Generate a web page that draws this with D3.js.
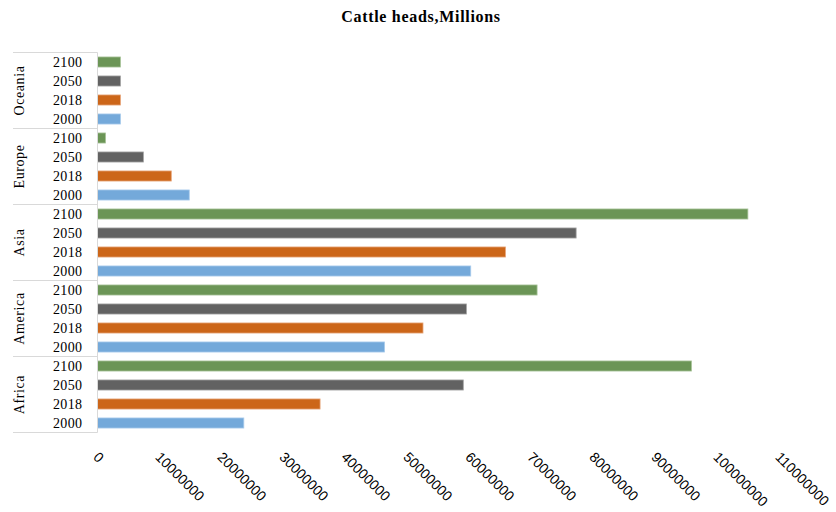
<!DOCTYPE html>
<html>
<head>
<meta charset="utf-8">
<script src="https://cdn.jsdelivr.net/npm/d3@7/dist/d3.min.js"></script>
<style>
  html, body { margin: 0; padding: 0; background: #fff; }
  svg { display: block; }
</style>
</head>
<body>
<svg id="chart" width="836" height="512"></svg>
<script>
// Regions listed bottom-to-top, years within a region bottom-to-top
const regions = ["Africa", "America", "Asia", "Europe", "Oceania"];
const years = ["2000", "2018", "2050", "2100"];

// Cattle heads per region (same order as regions)
const heads2000 = [23600000, 46300000, 60200000, 14800000, 3700000];
const heads2018 = [35900000, 52500000, 65800000, 11900000, 3700000];
const heads2050 = [59000000, 59500000, 77200000, 7400000, 3700000];
const heads2100 = [95800000, 70900000, 104900000, 1300000, 3700000];

const xTicks = [0, 10000000, 20000000, 30000000, 40000000, 50000000,
                60000000, 70000000, 80000000, 90000000, 100000000, 110000000];

const seriesByYear = { "2000": heads2000, "2018": heads2018, "2050": heads2050, "2100": heads2100 };
const colors = { "2000": "#74a9da", "2018": "#cc6619", "2050": "#626262", "2100": "#6b9556" };
const strokes = { "2000": "#a9cbec", "2018": "#e6a57a", "2050": "#a3a3a3", "2100": "#a8c49a" };

// Flat rows, topmost first: Oceania 2100 ... Africa 2000
const rows = [];
regions.slice().reverse().forEach(r => {
  const idx = regions.indexOf(r);
  years.slice().reverse().forEach(yr => {
    rows.push({ region: r, year: yr, key: r + "|" + yr, value: seriesByYear[yr][idx] });
  });
});

const svg = d3.select("#chart");
const plotLeft = 97.5, plotRight = 779.5, plotTop = 52.5, plotBottom = 432.5;

const x = d3.scaleLinear().domain([0, 110000000]).range([plotLeft, plotRight]);
const y = d3.scaleBand().domain(rows.map(d => d.key)).range([plotTop, plotBottom])
  .paddingInner(0.47).paddingOuter(0.235);

const serif = "'Liberation Serif', 'Times New Roman', serif";

// Title
svg.append("text")
  .attr("x", 421).attr("y", 22)
  .attr("text-anchor", "middle")
  .style("font-family", serif)
  .style("font-weight", "bold")
  .style("font-size", "16px")
  .style("letter-spacing", "0.7px")
  .attr("fill", "#000")
  .text("Cattle heads,Millions");

// Bars
svg.append("g").selectAll("rect")
  .data(rows)
  .join("rect")
  .attr("x", x(0))
  .attr("y", d => y(d.key))
  .attr("width", d => x(d.value) - x(0))
  .attr("height", y.bandwidth())
  .attr("fill", d => colors[d.year])
  .attr("stroke", d => strokes[d.year])
  .attr("stroke-width", 0.8);

// Category axis line and region separators
const lineColor = "#d9d9d9";
svg.append("line")
  .attr("x1", plotLeft).attr("x2", plotLeft)
  .attr("y1", plotTop).attr("y2", plotBottom)
  .attr("stroke", lineColor).attr("stroke-width", 1);

const groupH = (plotBottom - plotTop) / regions.length;
const groupTops = regions.slice().reverse().map((r, i) => ({ region: r, y0: plotTop + i * groupH }));

svg.append("g").selectAll("line")
  .data(d3.range(regions.length + 1))
  .join("line")
  .attr("x1", 13).attr("x2", plotLeft)
  .attr("y1", i => plotTop + i * groupH)
  .attr("y2", i => plotTop + i * groupH)
  .attr("stroke", lineColor).attr("stroke-width", 1);

// Year labels
svg.append("g").selectAll("text")
  .data(rows)
  .join("text")
  .attr("x", 82.5)
  .attr("y", d => y(d.key) + y.bandwidth() / 2)
  .attr("dy", "0.36em")
  .attr("text-anchor", "end")
  .style("font-family", serif)
  .style("font-size", "14px")
  .style("letter-spacing", "0.4px")
  .attr("fill", "#000")
  .text(d => d.year);

// Region labels, rotated
svg.append("g").selectAll("text")
  .data(groupTops)
  .join("text")
  .attr("transform", d => `translate(24,${d.y0 + groupH / 2}) rotate(-90)`)
  .attr("text-anchor", "middle")
  .style("font-family", serif)
  .style("font-size", "14px")
  .style("letter-spacing", "0.6px")
  .attr("fill", "#000")
  .text(d => d.region);

// Value axis with slanted tick labels
const xAxis = d3.axisBottom(x).tickValues(xTicks).tickSize(0).tickFormat(d3.format("d"));
const gx = svg.append("g").attr("transform", `translate(0,${458})`).call(xAxis);
gx.select(".domain").remove();
gx.selectAll(".tick text")
  .attr("x", 0).attr("y", 0).attr("dy", 0)
  .attr("text-anchor", "start")
  .attr("transform", "translate(-5.5,0) rotate(45)")
  .style("font-family", "'Liberation Sans', Arial, sans-serif")
  .style("font-size", "14px")
  .attr("fill", "#000");
</script>
</body>
</html>
